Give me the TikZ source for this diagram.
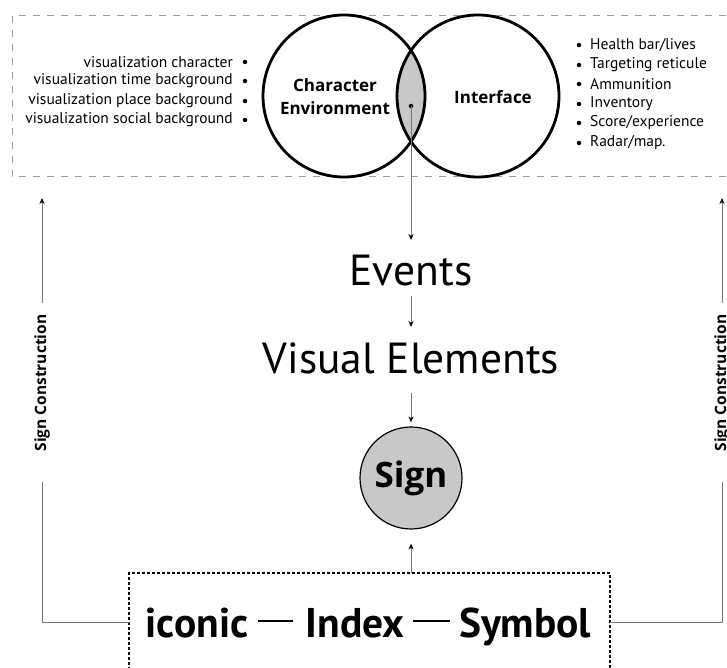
\documentclass[tikz,border=0pt]{standalone}
\usepackage{fontspec}
\setmainfont{PT Sans}
\newfontfamily\bsans{Open Sans}
\usetikzlibrary{arrows.meta,calc}
\definecolor{venngray}{HTML}{C8C8C8}
\definecolor{conn}{HTML}{777777}
\definecolor{dashg}{HTML}{9A9A9A}
\tikzset{
  tip/.style={-{Stealth[length=6pt,width=5pt,black]}, conn, line width=1pt},
  conline/.style={conn, line width=1pt},
  ring/.style={circle, draw=black, line width=2.8pt, minimum size=162pt, inner sep=0pt},
  listl/.style={font=\fontsize{15.5}{18}\selectfont, anchor=east, inner sep=0pt},
  listr/.style={font=\fontsize{15.5}{18}\selectfont, anchor=west, inner sep=0pt},
  bul/.style={circle, fill=black, inner sep=0pt, minimum size=4.5pt},
  bigtxt/.style={font=\fontsize{43.5}{48}\selectfont, inner sep=0pt, anchor=base},
  sidelbl/.style={font=\bsans\bfseries\fontsize{15.5}{18}\selectfont, rotate=90, inner sep=0pt},
  venntxt/.style={font=\bsans\bfseries\fontsize{17}{23}\selectfont, align=center, inner sep=0pt}
}
\begin{document}
\begin{tikzpicture}[x=1pt,y=-1pt]
\useasboundingbox (0,0) rectangle (727,668);
\clip (0,0) rectangle (727,668);
\fill[white] (0,0) rectangle (727,668);
% top dashed box
\draw[dashg, line width=1pt, dash pattern=on 7pt off 7pt] (740,16) -- (12,16) -- (12,177) -- (740,177);
% venn
\begin{scope}
  \clip (344,96) circle (81);
  \fill[venngray] (478,96) circle (81);
\end{scope}
\node[ring] (ce) at (344,96) {};
\node[ring] (ifc) at (478,96) {};
\node[venntxt] (cetxt) at (335,97) {Character\\Environment};
\node[venntxt] (ifctxt) at (493,97) {Interface};
\node[bul] (dot) at (411,106) {};
% left list
\foreach \t/\y [count=\i] in {{visualization character}/62, {visualization time background}/81, {visualization place background}/101, {visualization social background}/120}{
  \node[listl] (l\i) at (233,\y) {\t};
  \node[bul] (lb\i) at (245,\y) {};
}
% right list
\foreach \t/\y [count=\i] in {{Health bar/lives}/45, {Targeting reticule}/65, {Ammunition}/84, {Inventory}/104, {Score/experience}/123, {Radar/map.}/143}{
  \node[listr] (r\i) at (590,\y) {\t};
  \node[bul] (rb\i) at (579,\y) {};
}
% central flow
\node[bigtxt] (ev) at (411,285) {Events};
\node[bigtxt] (ve) at (411,373) {Visual Elements};
\node[circle, draw=black, line width=1.2pt, fill=venngray, minimum size=102pt, inner sep=0pt, font=\bsans\bfseries\fontsize{35}{40}\selectfont] (sign) at (411,478) {Sign};
\draw[tip] (dot.center) -- ($(ev.base)+(0,-45)$);
\draw[tip] ($(ev.base)+(0,11)$) -- ($(ve.base)+(0,-46)$);
\draw[tip] ($(ve.base)+(0,20)$) -- ($(sign.north)+(0,-4)$);
% bottom dotted box
\draw[black, line width=1.3pt, dash pattern=on 3pt off 2pt] (129,690) -- (129,573) -- (610,573) -- (610,690);
\coordinate (boxtop) at (411,573);
\coordinate (boxl) at (129,622);
\coordinate (boxr) at (610,622);
\draw[tip] (boxtop) -- ($(sign.south)+(0,14)$);
\node[font=\bfseries\fontsize{41.5}{50}\selectfont, inner sep=0pt, anchor=base] (ikon) at (368.5,637) {\makebox[100pt][c]{iconic}\hspace{11pt}\rule[15pt]{35pt}{1.6pt}\hspace{14pt}\makebox[96pt][c]{Index}\hspace{10pt}\rule[15pt]{37pt}{1.6pt}\hspace{10pt}\makebox[130pt][c]{Symbol}};
% side lines
\node[sidelbl] (sl) at (42,383) {Sign Construction};
\node[sidelbl] (sr) at (722,383) {Sign Construction};
\coordinate (ltop) at (42,198);
\coordinate (rtop) at (722,198);
\coordinate (lcorner) at (42,622);
\coordinate (rcorner) at (722,622);
\draw[tip] (42,303) -- (ltop);
\draw[conline] (42,482) -- (lcorner) -- (boxl);
\draw[tip] (722,303) -- (rtop);
\draw[conline] (722,482) -- (rcorner) -- (boxr);
\end{tikzpicture}
\end{document}
